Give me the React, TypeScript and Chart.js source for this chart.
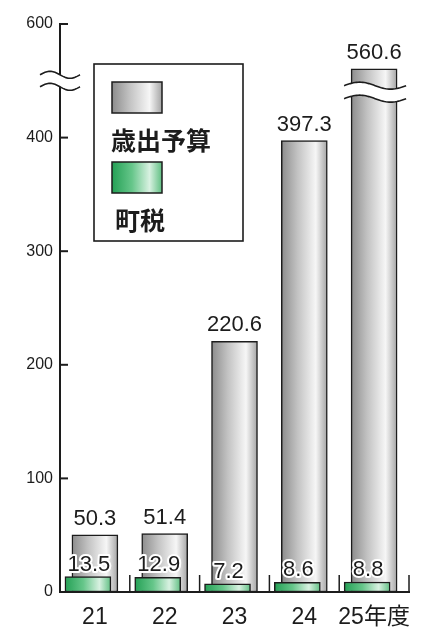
import React, { useEffect, useRef } from 'react';
import { Chart, registerables } from 'chart.js';

Chart.register(...registerables);

// ---- data ----
const CATEGORIES = ['21', '22', '23', '24', '25年度'];
const BUDGET = [50.3, 51.4, 220.6, 397.3, 560.6]; // 歳出予算
const TAX = [13.5, 12.9, 7.2, 8.6, 8.8]; // 町税
const SERIES_LABELS = ['歳出予算', '町税'];
const Y_TICKS = [0, 100, 200, 300, 400, 600];

// axis break: the range 450..550 is cut out of the value axis
const BREAK_FROM = 450;
const BREAK_TO = 550;
const GAP = BREAK_TO - BREAK_FROM;
const toAxis = (v: number) => (v >= BREAK_TO ? v - GAP : v);
const fromAxis = (a: number) => (a > BREAK_FROM ? a + GAP : a);

const TAX_SHIFT = -0.1;
const BAR_W = 46;
const FONT = "'Liberation Sans', Arial, 'Noto Sans CJK JP', sans-serif";
const CJK = "'Noto Sans CJK JP', sans-serif";
const INK = '#1c1c1c';

const GRAY_STOPS: [number, string][] = [
  [0, '#8c8c8c'], [0.35, '#c2c2c2'], [0.75, '#f6f6f6'], [1, '#a4a4a4'],
];
const GREEN_STOPS: [number, string][] = [
  [0, '#24a055'], [0.4, '#66c68a'], [0.75, '#d8f1e1'], [1, '#5fbf82'],
];

function makeGrad(ctx: CanvasRenderingContext2D, x0: number, x1: number, stops: [number, string][]) {
  const g = ctx.createLinearGradient(x0, 0, x1, 0);
  stops.forEach(([o, c]) => g.addColorStop(o, c));
  return g;
}

function barGradient(stops: [number, string][]) {
  return (c: any) => {
    const chart = c.chart;
    const raw = c.raw;
    if (!raw || !chart.chartArea || !chart.scales.x) return stops[1][1];
    const cx = chart.scales.x.getPixelForValue(raw.x);
    return makeGrad(chart.ctx, cx - BAR_W / 2, cx + BAR_W / 2, stops);
  };
}

function waves(ctx: CanvasRenderingContext2D, x0: number, x1: number, yMid: number, half: number, amp: number) {
  const n = 40;
  const curve = (off: number) => {
    const pts: [number, number][] = [];
    for (let i = 0; i <= n; i++) {
      const t = i / n;
      pts.push([x0 + (x1 - x0) * t, yMid + off - amp * Math.sin(2 * Math.PI * t)]);
    }
    return pts;
  };
  const top = curve(-half);
  const bot = curve(half);
  ctx.save();
  ctx.beginPath();
  top.forEach(([x, y], i) => (i ? ctx.lineTo(x, y) : ctx.moveTo(x, y)));
  for (let i = bot.length - 1; i >= 0; i--) ctx.lineTo(bot[i][0], bot[i][1]);
  ctx.closePath();
  ctx.fillStyle = '#ffffff';
  ctx.fill();
  ctx.strokeStyle = INK;
  ctx.lineWidth = 1.6;
  [top, bot].forEach((pts) => {
    ctx.beginPath();
    pts.forEach(([x, y], i) => (i ? ctx.lineTo(x, y) : ctx.moveTo(x, y)));
    ctx.stroke();
  });
  ctx.restore();
}

const decorPlugin = {
  id: 'decor',
  afterDatasetsDraw(chart: any) {
    const ctx: CanvasRenderingContext2D = chart.ctx;
    const xs = chart.scales.x;
    const ys = chart.scales.y;
    const area = chart.chartArea;

    // breaks on bars taller than the break
    BUDGET.forEach((v, i) => {
      if (v >= BREAK_TO) {
        const cx = xs.getPixelForValue(i);
        waves(ctx, cx - BAR_W / 2 - 7, cx + BAR_W / 2 + 9, ys.getPixelForValue(BREAK_FROM - 10), 6.5, 3.5);
      }
    });

    // value labels
    ctx.save();
    ctx.textAlign = 'center';
    ctx.textBaseline = 'alphabetic';
    ctx.font = `22px ${FONT}`;
    const gm = chart.getDatasetMeta(1);
    gm.data.forEach((el: any, i: number) => {
      ctx.fillStyle = INK;
      ctx.fillText(BUDGET[i].toFixed(1), el.x, el.y - 10);
    });
    const tm = chart.getDatasetMeta(0);
    tm.data.forEach((el: any, i: number) => {
      ctx.lineWidth = 4;
      ctx.strokeStyle = '#ffffff';
      ctx.lineJoin = 'round';
      ctx.strokeText(TAX[i].toFixed(1), el.x + 1, el.y - 6);
      ctx.fillStyle = INK;
      ctx.fillText(TAX[i].toFixed(1), el.x + 1, el.y - 6);
    });
    ctx.restore();

    // category separators
    ctx.save();
    ctx.strokeStyle = INK;
    ctx.lineWidth = 1.5;
    CATEGORIES.forEach((_, i) => {
      const x = xs.getPixelForValue(i + 0.5);
      ctx.beginPath();
      ctx.moveTo(x, area.bottom);
      ctx.lineTo(x, area.bottom - 17);
      ctx.stroke();
    });
    // y tick marks (inward)
    ctx.lineWidth = 2;
    Y_TICKS.forEach((v) => {
      const y = ys.getPixelForValue(toAxis(v));
      ctx.beginPath();
      ctx.moveTo(area.left, y);
      ctx.lineTo(area.left + 8, y);
      ctx.stroke();
    });
    ctx.restore();

    // axis break
    waves(ctx, area.left - 20, area.left + 20, ys.getPixelForValue(BREAK_FROM), 6, 3.5);

    // legend
    ctx.save();
    const bx = area.left + 34;
    const by = area.top + 40;
    const bw = 149;
    const bh = 177;
    ctx.fillStyle = '#ffffff';
    ctx.fillRect(bx, by, bw, bh);
    ctx.strokeStyle = INK;
    ctx.lineWidth = 1.6;
    ctx.strokeRect(bx, by, bw, bh);
    const sx = bx + 18;
    const sw = 50;
    const sh = 31;
    const items: [string, [number, string][], number, number][] = [
      [SERIES_LABELS[0], GRAY_STOPS, by + 18, 0],
      [SERIES_LABELS[1], GREEN_STOPS, by + 98, 4],
    ];
    items.forEach(([label, stops, sy, tx]) => {
      ctx.fillStyle = makeGrad(ctx, sx, sx + sw, stops);
      ctx.fillRect(sx, sy, sw, sh);
      ctx.lineWidth = 1.5;
      ctx.strokeRect(sx, sy, sw, sh);
      ctx.fillStyle = INK;
      ctx.font = `bold 25px ${CJK}`;
      ctx.textAlign = 'left';
      ctx.textBaseline = 'middle';
      ctx.fillText(label, sx + tx - 1, sy + sh + 27);
    });
    ctx.restore();
  },
};

export default function App() {
  const ref = useRef<HTMLCanvasElement>(null);
  useEffect(() => {
    if (!ref.current) return;
    const chart = new Chart(ref.current, {
      type: 'bar',
      data: {
        datasets: [
          {
            label: SERIES_LABELS[1],
            data: TAX.map((v, i) => ({ x: i + TAX_SHIFT, y: v })),
            backgroundColor: barGradient(GREEN_STOPS),
            borderColor: INK,
            borderWidth: 1.5,
            borderSkipped: false,
            barThickness: BAR_W,
            grouped: false,
            order: 1,
          } as any,
          {
            label: SERIES_LABELS[0],
            data: BUDGET.map((v, i) => ({ x: i, y: toAxis(v) })),
            backgroundColor: barGradient(GRAY_STOPS),
            borderColor: INK,
            borderWidth: 1.5,
            borderSkipped: false,
            barThickness: BAR_W,
            grouped: false,
            order: 2,
          } as any,
        ],
      },
      options: {
        responsive: true,
        maintainAspectRatio: false,
        animation: false,
        layout: { padding: { left: 0, right: 11, top: 24, bottom: 0 } },
        plugins: { legend: { display: false }, tooltip: { enabled: false } },
        scales: {
          x: {
            type: 'linear',
            min: -0.5,
            max: CATEGORIES.length - 0.5,
            offset: false,
            afterBuildTicks: (s: any) => {
              s.ticks = CATEGORIES.map((_, i) => ({ value: i }));
            },
            afterFit: (s: any) => {
              s.height = 42;
            },
            grid: { display: false, drawTicks: false },
            border: { display: true, color: INK, width: 2 },
            ticks: {
              callback: (v: any) => CATEGORIES[Math.round(v)] ?? '',
              font: { size: 23, family: FONT },
              color: INK,
              padding: 12,
              maxRotation: 0,
              autoSkip: false,
            },
          },
          y: {
            type: 'linear',
            min: 0,
            max: toAxis(600),
            afterBuildTicks: (s: any) => {
              s.ticks = Y_TICKS.map((v) => ({ value: toAxis(v) }));
            },
            afterFit: (s: any) => {
              s.width = 60;
            },
            grid: { display: false, drawTicks: false },
            border: { display: true, color: INK, width: 2 },
            ticks: {
              callback: (v: any) => String(fromAxis(v)),
              font: { size: 16, family: FONT },
              color: INK,
              padding: 7,
            },
          },
        },
      } as any,
      plugins: [decorPlugin],
    });
    return () => chart.destroy();
  }, []);

  return (
    <div style={{ position: 'absolute', left: 0, top: 0, width: 423, height: 634, background: '#fff' }}>
      <canvas ref={ref} />
    </div>
  );
}
